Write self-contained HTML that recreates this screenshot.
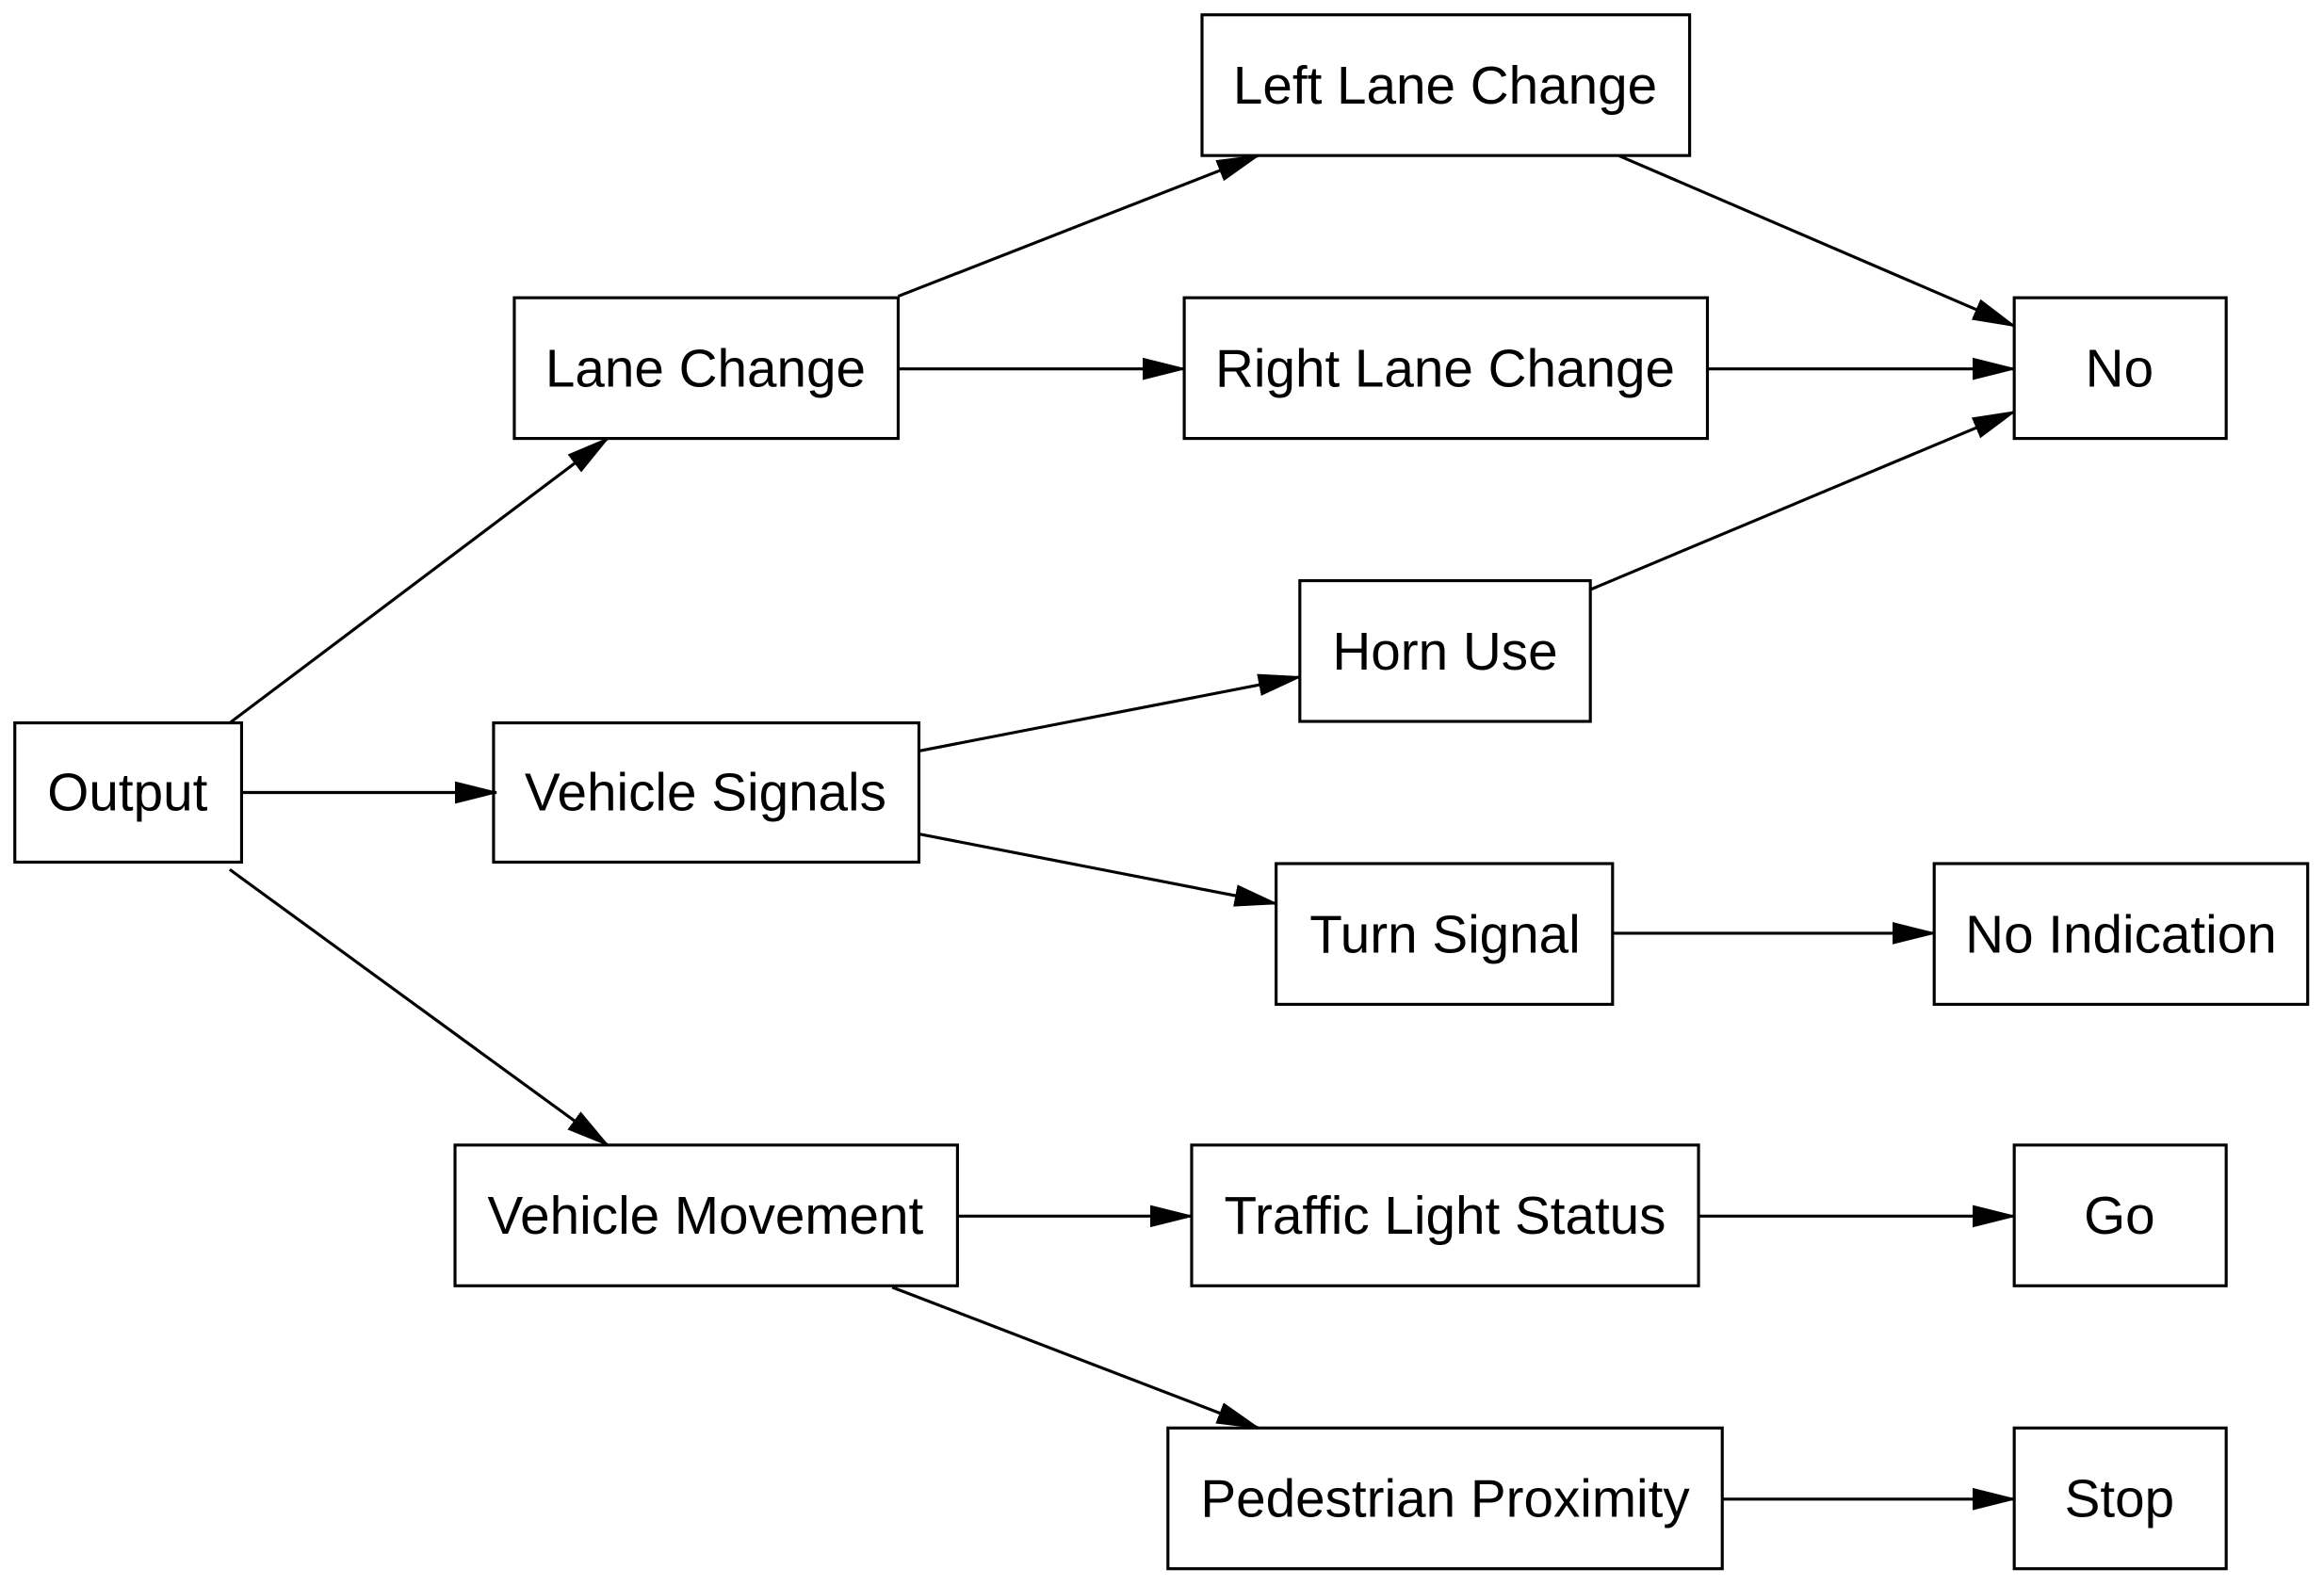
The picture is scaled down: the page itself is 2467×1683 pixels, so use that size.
<!DOCTYPE html>
<html><head><meta charset="utf-8"><style>
html,body{margin:0;padding:0;background:#fff;}
svg{display:block;}
text{font-family:"Liberation Sans",Arial,sans-serif;font-size:36px;fill:#000;}
</style></head><body>
<svg width="2467" height="1683" viewBox="0 0 1568 1070" preserveAspectRatio="none" xmlns="http://www.w3.org/2000/svg">
<defs>
<marker id="a" markerUnits="userSpaceOnUse" markerWidth="30" markerHeight="20" refX="28" refY="10" orient="auto">
<polygon points="0,3 28,10 0,17" fill="#000" stroke="#000" stroke-width="1"/>
</marker>
</defs>
<g fill="none" stroke="#000" stroke-width="2">
<rect x="10" y="488" width="153" height="94"/>
<rect x="347" y="201" width="259" height="95"/>
<rect x="333" y="488" width="287" height="94"/>
<rect x="307" y="773" width="339" height="95"/>
<rect x="811" y="10" width="329" height="95"/>
<rect x="799" y="201" width="353" height="95"/>
<rect x="877" y="392" width="196" height="95"/>
<rect x="861" y="583" width="227" height="95"/>
<rect x="804" y="773" width="342" height="95"/>
<rect x="788" y="964" width="374" height="95"/>
<rect x="1359" y="201" width="143" height="95"/>
<rect x="1305" y="583" width="252" height="95"/>
<rect x="1359" y="773" width="143" height="95"/>
<rect x="1359" y="964" width="143" height="95"/>
</g>
<g stroke="#000" stroke-width="2" marker-end="url(#a)">
<line x1="155" y1="488" x2="410" y2="296"/>
<line x1="163" y1="535" x2="335" y2="535"/>
<line x1="155" y1="587" x2="410" y2="773"/>
<line x1="606" y1="200" x2="849" y2="105"/>
<line x1="606" y1="249" x2="799" y2="249"/>
<line x1="1092" y1="105" x2="1359" y2="220"/>
<line x1="1152" y1="249" x2="1359" y2="249"/>
<line x1="1073" y1="398" x2="1359" y2="278"/>
<line x1="620" y1="507" x2="877" y2="457"/>
<line x1="620" y1="563" x2="861" y2="610"/>
<line x1="1088" y1="630" x2="1305" y2="630"/>
<line x1="646" y1="821" x2="804" y2="821"/>
<line x1="602" y1="869" x2="849" y2="964"/>
<line x1="1146" y1="821" x2="1359" y2="821"/>
<line x1="1162" y1="1012" x2="1359" y2="1012"/>
</g>
<g text-anchor="middle">
<text x="86" y="547">Output</text>
<text x="476" y="261">Lane Change</text>
<text x="476" y="547">Vehicle Signals</text>
<text x="476" y="833">Vehicle Movement</text>
<text x="975" y="70">Left Lane Change</text>
<text x="975" y="261">Right Lane Change</text>
<text x="975" y="452">Horn Use</text>
<text x="975" y="643">Turn Signal</text>
<text x="975" y="833">Traffic Light Status</text>
<text x="975" y="1024">Pedestrian Proximity</text>
<text x="1430" y="261">No</text>
<text x="1431" y="643">No Indication</text>
<text x="1430" y="833">Go</text>
<text x="1430" y="1024">Stop</text>
</g>
</svg>
</body></html>
